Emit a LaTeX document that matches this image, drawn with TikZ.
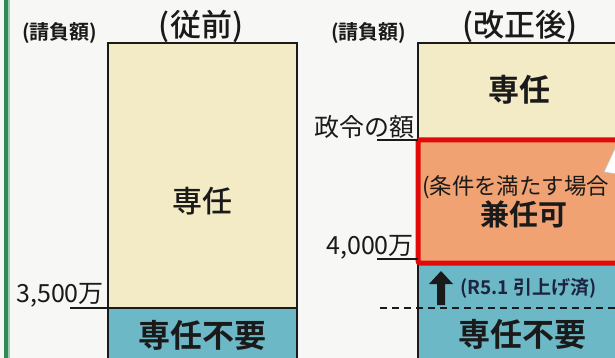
\documentclass[tikz,border=0pt]{standalone}
\usepackage{fontspec}
\setmainfont{Noto Sans CJK JP}[BoldFont={Noto Sans CJK JP Bold}]
\newfontfamily\medfont{Noto Sans CJK JP Medium}
\definecolor{bg}{HTML}{F7F7F5}
\definecolor{tan}{HTML}{F3EBC6}
\definecolor{teal}{HTML}{6DB8C6}
\definecolor{orng}{HTML}{F0A273}
\definecolor{redb}{HTML}{E00A0A}
\definecolor{grn}{HTML}{2F8A55}
\definecolor{ink}{HTML}{1A1A1A}
\definecolor{navy}{HTML}{1C2440}
\tikzset{
  lbl/.style={inner sep=0pt, text=ink},
  frame/.style={draw=ink, line width=2pt},
}
\begin{document}
\begin{tikzpicture}[x=1pt,y=-1pt]
\useasboundingbox (0,0) rectangle (615,358);
\clip (0,0) rectangle (615,358);
\fill[bg] (0,0) rectangle (615,358);
% green margin line
\fill[grn!45!white] (7,0) rectangle (9.5,358);
\fill[grn] (4,0) rectangle (7.5,358);

% ---- left column ----
\fill[tan] (108,43) rectangle (297,308);
\fill[teal] (108,308) rectangle (297,366);
\draw[frame] (108,366) -- (108,43) -- (297,43) -- (297,366);
\draw[frame] (108,308) -- (297,308);
\node[lbl, font=\bfseries\fontsize{20}{20}\selectfont, anchor=west] (ukL) at (22,33) {(請負額)};
\node[lbl, font=\medfont\fontsize{31}{31}\selectfont] (titleL) at (201,26) {(従前)};
\node[lbl, font=\medfont\fontsize{30}{30}\selectfont] (senL) at (202,201) {専任};
\node[lbl, font=\bfseries\fontsize{32}{32}\selectfont] (fuyoL) at (202,335) {専任不要};
\node[lbl, font=\fontsize{25}{25}\selectfont, anchor=east] (v35) at (104,295) {3,500万};
\coordinate (u35) at (70,308);
\draw[ink, line width=1.2pt] (u35) -- (108,308);

% ---- right column ----
\fill[tan] (418,43) rectangle (620,140);
\fill[teal] (418,263) rectangle (620,366);
\draw[frame] (418,366) -- (418,43) -- (620,43);
\draw[redb, fill=orng, line width=5pt, rounded corners=2pt] (418,140) rectangle (640,263);
% white callout tail
\fill[white, draw=black!25, line width=0.6pt] (604,172) -- (616,146) -- (616,174) -- cycle;
\node[lbl, font=\bfseries\fontsize{20}{20}\selectfont, anchor=west] (ukR) at (331,33) {(請負額)};
\node[lbl, font=\medfont\fontsize{31}{31}\selectfont] (titleR) at (520,26) {(改正後)};
\node[lbl, font=\bfseries\fontsize{31}{31}\selectfont] (senR) at (519,90) {専任};
\node[lbl, font=\fontsize{25}{25}\selectfont, anchor=east] (seirei) at (415,127) {政令の額};
\coordinate (useirei) at (377,140);
\draw[ink, line width=1.2pt] (useirei) -- (418,140);
\node[lbl, font=\fontsize{22.4}{22.4}\selectfont, anchor=west] (joken) at (422,187) {(条件を満たす場合};
\node[lbl, font=\bfseries\fontsize{29}{29}\selectfont] (kennin) at (524,214) {兼任可};
\node[lbl, font=\fontsize{25}{25}\selectfont, anchor=east] (v40) at (414,247) {4,000万};
\coordinate (u40) at (377,259);
\draw[ink, line width=1.2pt] (u40) -- (418,259);
% up arrow
\fill[ink] (437,305) -- (445,305) -- (445,284) -- (453,284) -- (441,271) -- (429,284) -- (437,284) -- cycle;
\node[lbl, text=navy, font=\bfseries\fontsize{19}{19}\selectfont, anchor=west] (r51) at (460,288) {(R5.1 引上げ済)};
\coordinate (dashL) at (380,308);
\draw[ink, line width=1.3pt, dash pattern=on 7pt off 5pt] (dashL) -- (620,308);
\node[lbl, font=\bfseries\fontsize{32}{32}\selectfont] (fuyoR) at (522,334) {専任不要};
\end{tikzpicture}
\end{document}
